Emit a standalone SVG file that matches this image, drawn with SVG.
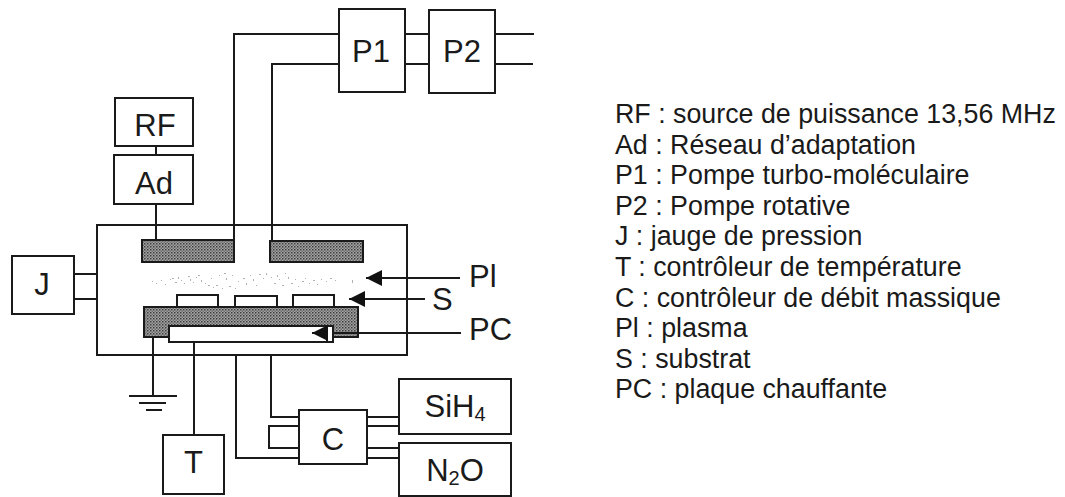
<svg xmlns="http://www.w3.org/2000/svg" width="1065" height="497" viewBox="0 0 1065 497">
<style>
.b{fill:#fff;stroke:#1a1a1a;stroke-width:2}
.c{fill:none;stroke:#1a1a1a;stroke-width:2}
.e{fill:url(#dither);stroke:#1a1a1a;stroke-width:2}
.t{font-family:"Liberation Sans",Arial,sans-serif;font-size:31px;fill:#1a1a1a;text-anchor:middle}
.l{font-family:"Liberation Sans",Arial,sans-serif;font-size:31px;fill:#1a1a1a}
.g{font-family:"Liberation Sans",Arial,sans-serif;font-size:26.8px;fill:#1a1a1a}
.s{font-size:20px}
</style>
<defs>
<pattern id="dither" width="3" height="3" patternUnits="userSpaceOnUse">
<rect width="3" height="3" fill="#a4a4a4"/><rect width="1.5" height="1.5" fill="#3c3c3c"/><rect x="1.5" y="1.5" width="1.5" height="1.5" fill="#6e6e6e"/>
</pattern>
<marker id="arrow" markerUnits="userSpaceOnUse" markerWidth="17" markerHeight="16" refX="16" refY="8" orient="auto"><path d="M0 0L16 8L0 16Z" fill="#111"/></marker>
</defs>
<g id="chamber">
<rect class="b" x="97" y="225" width="310" height="130"/>
<rect class="e" x="142" y="240" width="92" height="22"/>
<rect class="e" x="270" y="241" width="93" height="21"/>
<path id="plasma" fill="#b0b0b0" d="M152 281h1v1h-1zM156 283h1v1h-1zM161 280h1v1h-1zM165 284h1v1h-1zM170 279h1v1h-1zM172 278h2v1h-2zM175 282h2v1h-2zM178 277h1v2h-1zM181 280h1v1h-1zM184 283h1v1h-1zM188 276h2v1h-2zM190 279h1v2h-1zM193 282h1v1h-1zM196 277h1v1h-1zM198 275h2v1h-2zM201 280h1v2h-1zM205 283h1v1h-1zM208 285h2v1h-2zM211 278h1v1h-1zM213 287h1v1h-1zM216 285h2v1h-2zM219 275h1v1h-1zM222 288h1v1h-1zM224 273h2v1h-2zM226 278h1v2h-1zM229 286h2v1h-2zM232 275h1v1h-1zM235 288h1v1h-1zM238 281h1v1h-1zM243 278h2v1h-2zM246 283h1v2h-1zM250 275h1v1h-1zM253 279h1v2h-1zM256 285h1v1h-1zM259 274h2v1h-2zM263 278h1v1h-1zM266 273h1v2h-1zM271 277h1v1h-1zM274 283h2v1h-2zM277 275h1v2h-1zM279 279h1v1h-1zM282 285h2v1h-2zM285 273h1v1h-1zM288 277h1v2h-1zM291 283h2v1h-2zM295 279h1v1h-1zM298 286h1v1h-1zM302 281h2v1h-2zM305 278h1v1h-1zM309 283h1v1h-1zM313 280h2v1h-2zM317 284h1v1h-1zM321 279h1v1h-1zM326 281h1v1h-1zM330 278h2v1h-2zM335 280h1v1h-1zM352 280h1v3h-1z"/>
</g>
<g id="substrates">
<rect class="b" x="177" y="295" width="41" height="14"/>
<rect class="b" x="235" y="296" width="42" height="13"/>
<rect class="b" x="293" y="295" width="41" height="14"/>
</g>
<g id="plate">
<rect class="e" x="144" y="307" width="214" height="30"/>
<rect class="b" x="169" y="326" width="164" height="16"/>
<path class="c" d="M327 326V342"/>
</g>
<g id="connectors">
<path class="c" d="M156 146V155M156 204V240M234 240V34H339M272 241V64H339M405 34H429M405 64H429M495 34H534M495 64H533"/>
<path class="c" d="M74 274H97M74 299H97"/>
<path class="c" d="M153 337V396M129 396H177M139 403H166M146 410H162"/>
<path class="c" d="M194 342V435"/>
<path class="c" d="M271 355V417H299M236 355V458H299M299 426H269V448H299"/>
<path class="c" d="M367 417H399M367 426H399M367 448H399M367 458H399"/>
<path class="c" marker-end="url(#arrow)" d="M460 278H366"/>
<path class="c" marker-end="url(#arrow)" d="M425 299H349"/>
<path class="c" marker-end="url(#arrow)" d="M461 333H312"/>
<rect x="328" y="327" width="4" height="14" fill="#fff"/>
</g>
<g id="RF"><rect class="b" x="115" y="98" width="78" height="48"/><text class="t" x="155" y="136">RF</text></g>
<g id="Ad"><rect class="b" x="114" y="155" width="79" height="49"/><text class="t" x="154" y="194">Ad</text></g>
<g id="P1"><rect class="b" x="339" y="9" width="66" height="83"/><text class="t" x="371" y="62">P1</text></g>
<g id="P2"><rect class="b" x="429" y="10" width="66" height="83"/><text class="t" x="462" y="62">P2</text></g>
<g id="J"><rect class="b" x="12" y="256" width="62" height="58"/><text class="t" x="42" y="295">J</text></g>
<g id="T"><rect class="b" x="163" y="435" width="61" height="59"/><text class="t" x="193.500" y="473">T</text></g>
<g id="C"><rect class="b" x="299" y="410" width="68" height="54"/><text class="t" x="333" y="450">C</text></g>
<g id="SiH4"><rect class="b" x="399" y="379" width="112" height="55"/><text class="t" x="455" y="417">SiH<tspan class="s" dy="4">4</tspan></text></g>
<g id="N2O"><rect class="b" x="399" y="443" width="112" height="53"/><text class="t" x="455" y="481">N<tspan class="s" dy="4">2</tspan><tspan dy="-4">O</tspan></text></g>
<g id="labels">
<text class="l" x="469" y="287">Pl</text>
<text class="l" x="432" y="310">S</text>
<text class="l" x="469" y="340">PC</text>
</g>
<g id="legend">
<text class="g" x="615" y="123">RF : source de puissance 13,56 MHz</text>
<text class="g" x="615" y="153.500">Ad : Réseau d’adaptation</text>
<text class="g" x="615" y="184">P1 : Pompe turbo-moléculaire</text>
<text class="g" x="615" y="214.500">P2 : Pompe rotative</text>
<text class="g" x="615" y="245">J : jauge de pression</text>
<text class="g" x="615" y="276">T : contrôleur de température</text>
<text class="g" x="615" y="306.500">C : contrôleur de débit massique</text>
<text class="g" x="615" y="337">Pl : plasma</text>
<text class="g" x="615" y="367.500">S : substrat</text>
<text class="g" x="615" y="398">PC : plaque chauffante</text>
</g>
</svg>
